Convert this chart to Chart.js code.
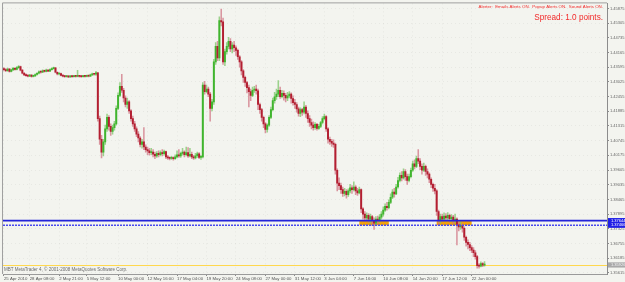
<!DOCTYPE html>
<html>
<head>
<meta charset="utf-8">
<script src="https://cdn.jsdelivr.net/npm/chart.js@4.4.1/dist/chart.umd.min.js"></script>
<style>
  html, body { margin: 0; padding: 0; background: #f3f4ef; }
  #wrap { width: 625px; height: 282px; }
</style>
</head>
<body>
<div id="wrap"><canvas id="priceChart" width="625" height="282"></canvas></div>
<script>
// H4 bars (EUR pair, 25 Apr - 22 Jun 2010)
const opens = [
  1.4353,1.4350,1.4346,1.4352,1.4343,1.4349,1.4355,1.4351,1.4358,1.4362,
  1.4348,1.4336,1.4330,1.4327,1.4325,1.4329,1.4324,1.4326,1.4331,1.4336,
  1.4342,1.4340,1.4345,1.4343,1.4348,1.4344,1.4350,1.4354,1.4357,1.4340,
  1.4333,1.4335,1.4328,1.4325,1.4323,1.4324,1.4322,1.4324,1.4323,1.4325,
  1.4324,1.4326,1.4324,1.4323,1.4325,1.4324,1.4326,1.4325,1.4330,1.4334,
  1.4332,1.4338,1.4160,1.4080,1.4030,1.4070,1.4120,1.4165,1.4130,1.4110,
  1.4125,1.4140,1.4200,1.4250,1.4285,1.4270,1.4240,1.4215,1.4225,1.4190,
  1.4160,1.4140,1.4120,1.4100,1.4085,1.4060,1.4070,1.4050,1.4040,1.4035,
  1.4028,1.4030,1.4022,1.4015,1.4025,1.4020,1.4028,1.4024,1.4032,1.4012,
  1.4008,1.4006,1.4009,1.4005,1.4012,1.4020,1.4015,1.4025,1.4030,1.4020,
  1.4028,1.4015,1.4022,1.4012,1.4008,1.4016,1.4024,1.4010,1.4012,1.4290,
  1.4265,1.4275,1.4255,1.4200,1.4225,1.4380,1.4440,1.4395,1.4540,1.4535,
  1.4380,1.4420,1.4440,1.4460,1.4430,1.4445,1.4435,1.4425,1.4400,1.4380,
  1.4345,1.4320,1.4300,1.4280,1.4265,1.4250,1.4270,1.4275,1.4268,1.4215,
  1.4195,1.4165,1.4140,1.4118,1.4135,1.4165,1.4195,1.4230,1.4245,1.4255,
  1.4270,1.4245,1.4258,1.4250,1.4240,1.4248,1.4255,1.4238,1.4222,1.4215,
  1.4198,1.4180,1.4195,1.4185,1.4205,1.4180,1.4160,1.4145,1.4135,1.4125,
  1.4138,1.4122,1.4130,1.4145,1.4160,1.4168,1.4120,1.4080,1.4072,1.4065,
  1.4060,1.3960,1.3910,1.3900,1.3885,1.3870,1.3878,1.3865,1.3880,1.3892,
  1.3885,1.3895,1.3880,1.3872,1.3885,1.3810,1.3790,1.3775,1.3785,1.3770,
  1.3780,1.3765,1.3755,1.3770,1.3765,1.3778,1.3790,1.3805,1.3820,1.3815,
  1.3835,1.3855,1.3875,1.3868,1.3895,1.3920,1.3940,1.3930,1.3955,1.3935,
  1.3920,1.3935,1.3960,1.3985,1.3975,1.4005,1.3995,1.3975,1.3960,1.3975,
  1.3955,1.3945,1.3925,1.3905,1.3890,1.3880,1.3800,1.3765,1.3780,1.3770,
  1.3782,1.3775,1.3785,1.3772,1.3778,1.3765,1.3770,1.3748,1.3740,1.3745,
  1.3735,1.3700,1.3680,1.3672,1.3660,1.3650,1.3640,1.3625,1.3590,1.3588,
  1.3598,1.3592
];
const highs = [
  1.4358,1.4354,1.4356,1.4355,1.4352,1.4359,1.4358,1.4362,1.4366,1.4364,
  1.4350,1.4340,1.4334,1.4330,1.4332,1.4331,1.4329,1.4334,1.4339,1.4345,
  1.4346,1.4349,1.4348,1.4352,1.4350,1.4353,1.4357,1.4360,1.4358,1.4342,
  1.4338,1.4337,1.4330,1.4327,1.4327,1.4326,1.4327,1.4326,1.4328,1.4327,
  1.4347,1.4328,1.4326,1.4328,1.4327,1.4329,1.4328,1.4333,1.4337,1.4336,
  1.4343,1.4340,1.4170,1.4095,1.4080,1.4135,1.4178,1.4172,1.4140,1.4135,
  1.4150,1.4210,1.4260,1.4300,1.4332,1.4278,1.4248,1.4240,1.4230,1.4195,
  1.4170,1.4150,1.4128,1.4110,1.4090,1.4080,1.4125,1.4058,1.4050,1.4045,
  1.4045,1.4040,1.4030,1.4032,1.4035,1.4035,1.4040,1.4038,1.4034,1.4018,
  1.4012,1.4014,1.4012,1.4020,1.4035,1.4040,1.4030,1.4045,1.4035,1.4050,
  1.4048,1.4045,1.4030,1.4018,1.4025,1.4030,1.4028,1.4018,1.4300,1.4305,
  1.4290,1.4282,1.4262,1.4235,1.4390,1.4455,1.4460,1.4555,1.4585,1.4550,
  1.4430,1.4455,1.4475,1.4470,1.4455,1.4460,1.4442,1.4430,1.4405,1.4385,
  1.4350,1.4325,1.4305,1.4290,1.4275,1.4282,1.4285,1.4290,1.4275,1.4220,
  1.4200,1.4170,1.4145,1.4140,1.4172,1.4205,1.4240,1.4262,1.4275,1.4308,
  1.4282,1.4270,1.4268,1.4258,1.4262,1.4265,1.4260,1.4248,1.4235,1.4222,
  1.4205,1.4202,1.4200,1.4225,1.4212,1.4190,1.4172,1.4158,1.4148,1.4145,
  1.4142,1.4138,1.4150,1.4168,1.4178,1.4172,1.4125,1.4088,1.4080,1.4078,
  1.4065,1.3965,1.3930,1.3910,1.3895,1.3890,1.3885,1.3888,1.3905,1.3900,
  1.3915,1.3900,1.3890,1.3895,1.3888,1.3815,1.3800,1.3795,1.3792,1.3790,
  1.3785,1.3775,1.3780,1.3782,1.3788,1.3800,1.3818,1.3830,1.3835,1.3845,
  1.3868,1.3885,1.3890,1.3905,1.3932,1.3950,1.3955,1.3965,1.3962,1.3945,
  1.3945,1.3968,1.3995,1.4000,1.4015,1.4040,1.4005,1.3985,1.3988,1.3980,
  1.3965,1.3950,1.3930,1.3910,1.3905,1.3885,1.3805,1.3790,1.3790,1.3795,
  1.3792,1.3796,1.3790,1.3788,1.3785,1.3790,1.3775,1.3760,1.3760,1.3752,
  1.3740,1.3705,1.3690,1.3680,1.3668,1.3660,1.3648,1.3630,1.3598,1.3605,
  1.3602,1.3606
];
const lows = [
  1.4345,1.4342,1.4343,1.4340,1.4341,1.4347,1.4348,1.4349,1.4355,1.4345,
  1.4333,1.4327,1.4324,1.4322,1.4323,1.4321,1.4322,1.4324,1.4329,1.4333,
  1.4336,1.4338,1.4340,1.4341,1.4342,1.4342,1.4348,1.4352,1.4337,1.4330,
  1.4330,1.4326,1.4322,1.4320,1.4321,1.4319,1.4320,1.4320,1.4321,1.4321,
  1.4322,1.4321,1.4320,1.4321,1.4321,1.4322,1.4322,1.4323,1.4328,1.4329,
  1.4328,1.4150,1.4060,1.4008,1.4015,1.4060,1.4110,1.4115,1.4095,1.4100,
  1.4115,1.4135,1.4195,1.4245,1.4262,1.4225,1.4205,1.4200,1.4180,1.4150,
  1.4130,1.4110,1.4090,1.4070,1.4050,1.4045,1.4040,1.4030,1.4020,1.4018,
  1.4020,1.4012,1.4005,1.4010,1.4012,1.4015,1.4015,1.4018,1.4005,1.4002,
  1.4000,1.4002,1.3999,1.4002,1.4008,1.4010,1.4010,1.4018,1.4012,1.4015,
  1.4010,1.4012,1.4005,1.4002,1.4004,1.4010,1.4005,1.4002,1.4008,1.4255,
  1.4260,1.4245,1.4150,1.4190,1.4215,1.4370,1.4385,1.4385,1.4520,1.4370,
  1.4365,1.4410,1.4430,1.4420,1.4415,1.4420,1.4405,1.4390,1.4360,1.4330,
  1.4300,1.4285,1.4260,1.4205,1.4230,1.4245,1.4262,1.4255,1.4195,1.4180,
  1.4150,1.4125,1.4105,1.4108,1.4130,1.4160,1.4190,1.4220,1.4235,1.4245,
  1.4238,1.4240,1.4232,1.4225,1.4230,1.4240,1.4220,1.4212,1.4200,1.4185,
  1.4170,1.4168,1.4172,1.4178,1.4165,1.4145,1.4130,1.4120,1.4115,1.4118,
  1.4115,1.4118,1.4125,1.4140,1.4155,1.4110,1.4065,1.4060,1.4052,1.4048,
  1.3945,1.3880,1.3885,1.3870,1.3858,1.3860,1.3852,1.3858,1.3872,1.3870,
  1.3880,1.3865,1.3862,1.3868,1.3795,1.3770,1.3760,1.3765,1.3758,1.3755,
  1.3745,1.3730,1.3748,1.3752,1.3758,1.3770,1.3782,1.3800,1.3805,1.3810,
  1.3830,1.3850,1.3855,1.3865,1.3890,1.3915,1.3918,1.3925,1.3920,1.3905,
  1.3915,1.3930,1.3955,1.3965,1.3970,1.3985,1.3962,1.3945,1.3955,1.3940,
  1.3930,1.3912,1.3892,1.3878,1.3868,1.3785,1.3750,1.3755,1.3760,1.3762,
  1.3762,1.3765,1.3758,1.3760,1.3752,1.3755,1.3670,1.3725,1.3730,1.3720,
  1.3688,1.3665,1.3655,1.3648,1.3640,1.3625,1.3615,1.3580,1.3580,1.3585,
  1.3586,1.3588
];
const closes = [
  1.4350,1.4346,1.4352,1.4343,1.4349,1.4355,1.4351,1.4358,1.4362,1.4348,
  1.4336,1.4330,1.4327,1.4325,1.4329,1.4324,1.4326,1.4331,1.4336,1.4342,
  1.4340,1.4345,1.4343,1.4348,1.4344,1.4350,1.4354,1.4357,1.4340,1.4333,
  1.4335,1.4328,1.4325,1.4323,1.4324,1.4322,1.4324,1.4323,1.4325,1.4324,
  1.4326,1.4324,1.4323,1.4325,1.4324,1.4326,1.4325,1.4330,1.4334,1.4332,
  1.4338,1.4160,1.4080,1.4030,1.4070,1.4120,1.4165,1.4130,1.4110,1.4125,
  1.4140,1.4200,1.4250,1.4285,1.4270,1.4240,1.4215,1.4225,1.4190,1.4160,
  1.4140,1.4120,1.4100,1.4085,1.4060,1.4070,1.4050,1.4040,1.4035,1.4028,
  1.4030,1.4022,1.4015,1.4025,1.4020,1.4028,1.4024,1.4032,1.4012,1.4008,
  1.4006,1.4009,1.4005,1.4012,1.4020,1.4015,1.4025,1.4030,1.4020,1.4028,
  1.4015,1.4022,1.4012,1.4008,1.4016,1.4024,1.4010,1.4012,1.4290,1.4265,
  1.4275,1.4255,1.4200,1.4225,1.4380,1.4440,1.4395,1.4540,1.4535,1.4380,
  1.4420,1.4440,1.4460,1.4430,1.4445,1.4435,1.4425,1.4400,1.4380,1.4345,
  1.4320,1.4300,1.4280,1.4265,1.4250,1.4270,1.4275,1.4268,1.4215,1.4195,
  1.4165,1.4140,1.4118,1.4135,1.4165,1.4195,1.4230,1.4245,1.4255,1.4270,
  1.4245,1.4258,1.4250,1.4240,1.4248,1.4255,1.4238,1.4222,1.4215,1.4198,
  1.4180,1.4195,1.4185,1.4205,1.4180,1.4160,1.4145,1.4135,1.4125,1.4138,
  1.4122,1.4130,1.4145,1.4160,1.4168,1.4120,1.4080,1.4072,1.4065,1.4060,
  1.3960,1.3910,1.3900,1.3885,1.3870,1.3878,1.3865,1.3880,1.3892,1.3885,
  1.3895,1.3880,1.3872,1.3885,1.3810,1.3790,1.3775,1.3785,1.3770,1.3780,
  1.3765,1.3755,1.3770,1.3765,1.3778,1.3790,1.3805,1.3820,1.3815,1.3835,
  1.3855,1.3875,1.3868,1.3895,1.3920,1.3940,1.3930,1.3955,1.3935,1.3920,
  1.3935,1.3960,1.3985,1.3975,1.4005,1.3995,1.3975,1.3960,1.3975,1.3955,
  1.3945,1.3925,1.3905,1.3890,1.3880,1.3800,1.3765,1.3780,1.3770,1.3782,
  1.3775,1.3785,1.3772,1.3778,1.3765,1.3770,1.3748,1.3740,1.3745,1.3735,
  1.3700,1.3680,1.3672,1.3660,1.3650,1.3640,1.3625,1.3590,1.3588,1.3598,
  1.3592,1.3593
];

// price scale labels on the right
const priceTicks = [
  1.35615, 1.36185, 1.36755, 1.37325, 1.37895, 1.38465, 1.39035, 1.39605,
  1.40175, 1.40745, 1.41315, 1.41885, 1.42455, 1.43025, 1.43595, 1.44165,
  1.44735, 1.45305, 1.45875
];
// time scale labels and the bar each one sits on
const timeTickBars = [0, 14, 30, 45, 62, 78, 94, 110, 126, 142, 158, 174, 190, 206, 222, 238, 254];
const timeTickText = [
  "25 Apr 2010", "28 Apr 08:00", "2 May 21:00", "5 May 12:00", "10 May 00:00",
  "12 May 16:00", "17 May 04:00", "19 May 20:00", "24 May 08:00", "27 May 00:00",
  "31 May 12:00", "3 Jun 04:00", "7 Jun 16:00", "10 Jun 08:00", "14 Jun 20:00",
  "17 Jun 12:00", "22 Jun 00:00"
];
// horizontal levels, bid line and the two orange boxes
const levelLines = [1.37644, 1.37466];
const bidPrice = 1.35926;
const zoneStartBar = [193, 235];
const zoneEndBar = [209, 254];

const slotCount = 328; // bars + empty space on the right, like MT4
const priceMin = 1.35575;
const priceMax = 1.46069;

const FONT = "'Liberation Sans', Arial, sans-serif";
const bullBody = "#40b52e";
const bearBody = "#b31f31";
const bullWick = "rgba(125,198,105,0.75)";
const bearWick = "rgba(208,118,132,0.75)";

function isBull(i) {
  return closes[i] >= opens[i];
}

const slots = [];
for (let i = 0; i < slotCount; i++) slots.push(String(i));

const wickData = closes.map((c, i) => [
  Math.min(lows[i], opens[i], c),
  Math.max(highs[i], opens[i], c),
]);
const bodyData = closes.map((c, i) => [opens[i], c]);

const mtDecor = {
  id: "mtDecor",
  beforeDraw(chart) {
    const ctx = chart.ctx;
    ctx.save();
    ctx.fillStyle = "#f3f4ef";
    ctx.fillRect(0, 0, chart.width, chart.height);
    ctx.restore();
  },
  beforeDatasetsDraw(chart) {
    const { ctx, chartArea, scales } = chart;
    const x = scales.x;
    const y = scales.y;
    ctx.save();
    // orange zones between the two levels
    const yTop = y.getPixelForValue(levelLines[0]);
    const yBot = y.getPixelForValue(levelLines[1]);
    ctx.fillStyle = "#f2a20a";
    for (let k = 0; k < zoneStartBar.length; k++) {
      const x0 = x.getPixelForValue(zoneStartBar[k]);
      const x1 = x.getPixelForValue(zoneEndBar[k]);
      ctx.fillRect(x0, yTop, x1 - x0, yBot - yTop);
    }
    // bid line
    const yb = Math.round(y.getPixelForValue(bidPrice)) + 0.5;
    ctx.strokeStyle = "#ffd84e";
    ctx.lineWidth = 1;
    ctx.beginPath();
    ctx.moveTo(chartArea.left, yb);
    ctx.lineTo(chartArea.right, yb);
    ctx.stroke();
    ctx.restore();
  },
  afterDatasetsDraw(chart) {
    const { ctx, chartArea, scales } = chart;
    const y = scales.y;
    ctx.save();
    // the two blue levels
    const y1 = y.getPixelForValue(levelLines[0]);
    ctx.strokeStyle = "#2323d8";
    ctx.lineWidth = 1.6;
    ctx.beginPath();
    ctx.moveTo(chartArea.left, y1);
    ctx.lineTo(chartArea.right, y1);
    ctx.stroke();
    const y2 = y.getPixelForValue(levelLines[1]);
    ctx.strokeStyle = "#4a4aee";
    ctx.lineWidth = 1.4;
    ctx.setLineDash([2, 1]);
    ctx.beginPath();
    ctx.moveTo(chartArea.left, y2);
    ctx.lineTo(chartArea.right, y2);
    ctx.stroke();
    ctx.restore();
  },
  afterDraw(chart) {
    const { ctx, chartArea, scales } = chart;
    const y = scales.y;
    ctx.save();
    // frame
    ctx.strokeStyle = "#a0a0a0";
    ctx.lineWidth = 1;
    ctx.beginPath();
    ctx.moveTo(chartArea.left - 0.5, chartArea.bottom);
    ctx.lineTo(chartArea.left - 0.5, chartArea.top - 0.5);
    ctx.lineTo(chartArea.right, chartArea.top - 0.5);
    ctx.stroke();

    // price boxes on the right scale
    const boxX = chartArea.right + 1;
    const boxW = chart.width - boxX;
    ctx.font = "4px " + FONT;
    ctx.textBaseline = "middle";
    ctx.textAlign = "left";
    levelLines.forEach((lv) => {
      const py = y.getPixelForValue(lv);
      ctx.fillStyle = "#2020e6";
      ctx.fillRect(boxX, py - 2.6, boxW, 5.2);
      ctx.fillStyle = "#ffffff";
      ctx.fillText(lv.toFixed(5), boxX + 3, py);
    });
    const pb = y.getPixelForValue(bidPrice);
    ctx.fillStyle = "#a9a9a9";
    ctx.fillRect(boxX, pb - 2.6, boxW, 5.2);
    ctx.fillStyle = "#f4f4f4";
    ctx.fillText(bidPrice.toFixed(5), boxX + 3, pb);

    // alerter and spread text
    ctx.fillStyle = "#f22a2a";
    ctx.textAlign = "right";
    ctx.font = "4.4px " + FONT;
    ctx.fillText("Alerter:  Emails Alerts ON.  Popup Alerts ON.  Sound Alerts ON.", chartArea.right - 4, 6.5);
    ctx.font = "8.2px " + FONT;
    ctx.fillText("Spread: 1.0 points.", chartArea.right - 4, 17.5);

    // copyright line
    ctx.fillStyle = "#6a6a6a";
    ctx.textAlign = "left";
    ctx.font = "4.5px " + FONT;
    ctx.fillText("MBT MetaTrader 4, \u00a9 2001-2008 MetaQuotes Software Corp.", chartArea.left + 1, 270);
    ctx.restore();
  },
};

const ctx = document.getElementById("priceChart").getContext("2d");
new Chart(ctx, {
  type: "bar",
  data: {
    labels: slots,
    datasets: [
      {
        label: "wick",
        data: wickData,
        backgroundColor: (c) => (isBull(c.dataIndex) ? bullWick : bearWick),
        barThickness: 0.9,
        grouped: false,
        borderWidth: 0,
        order: 2,
      },
      {
        label: "body",
        data: bodyData,
        backgroundColor: (c) => (isBull(c.dataIndex) ? bullBody : bearBody),
        barThickness: 1.3,
        minBarLength: 1,
        grouped: false,
        borderWidth: 0,
        order: 1,
      },
    ],
  },
  options: {
    responsive: false,
    animation: false,
    devicePixelRatio: 1,
    layout: { padding: { left: 3, top: 3, right: 0, bottom: 0 } },
    plugins: {
      legend: { display: false },
      tooltip: { enabled: false },
    },
    scales: {
      x: {
        offset: true,
        afterFit: (s) => { s.height = 8; },
        afterBuildTicks: (s) => {
          s.ticks = timeTickBars.map((b) => ({ value: b }));
        },
        ticks: {
          autoSkip: false,
          maxRotation: 0,
          minRotation: 0,
          align: "start",
          padding: 0,
          color: "#555555",
          font: { family: FONT, size: 4.3 },
          callback: (v) => {
            const k = timeTickBars.indexOf(v);
            return k >= 0 ? timeTickText[k] : "";
          },
        },
        grid: {
          offset: false,
          color: "rgba(180,180,170,0.18)",
          tickColor: "#8a8a8a",
          tickLength: 2,
        },
        border: { display: true, color: "#9a9a9a", dash: [1, 3] },
      },
      y: {
        position: "right",
        min: priceMin,
        max: priceMax,
        bounds: "data",
        afterFit: (s) => { s.width = 18; },
        afterBuildTicks: (s) => {
          s.ticks = priceTicks.map((v) => ({ value: v }));
        },
        ticks: {
          padding: 1,
          color: "#666666",
          font: { family: FONT, size: 4 },
          callback: (v) => Number(v).toFixed(5),
        },
        grid: {
          color: "rgba(180,180,170,0.18)",
          tickColor: "#8a8a8a",
          tickLength: 2,
        },
        border: { display: true, color: "#8c8c8c", dash: [1, 3] },
      },
    },
  },
  plugins: [mtDecor],
});
</script>
</body>
</html>
